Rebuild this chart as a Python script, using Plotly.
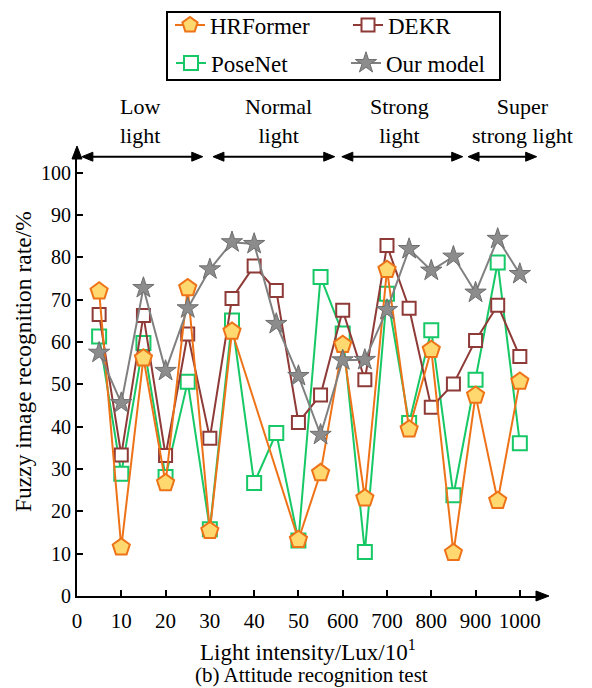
import plotly.graph_objects as go

# ---------------- data ----------------
categories = ['5', '10', '15', '20', '25', '30', '35', '40', '45', '50', '55',
              '600', '650', '700', '750', '800', '850', '900', '950', '1000']
tick_labels = ['0', '10', '20', '30', '40', '50', '600', '700', '800', '900', '1000']

hrformer = [72.0, 11.5, 56.2, 26.7, 72.8, 15.4, 62.5, None, None, 13.3, 29.1,
            59.4, 23.1, 77.1, 39.4, 58.2, 10.2, 47.4, 22.5, 50.7]
posenet = [61.3, 28.9, 59.8, 28.1, 50.6, 15.8, 65.1, 26.7, 38.5, 13.1, 75.4,
           62.0, 10.4, 71.4, 40.9, 62.8, 23.8, 51.1, 78.8, 36.1]
dekr = [66.5, 33.3, 66.3, 33.2, 61.9, 37.3, 70.3, 78.0, 72.2, 41.0, 47.5,
        67.5, 51.1, 82.8, 68.0, 44.6, 50.1, 60.4, 68.7, 56.6]
our_model = [57.5, 45.6, 72.8, 53.2, 68.0, 77.2, 83.6, 83.2, 64.3, 52.0, 38.1,
             55.7, 55.8, 67.6, 82.0, 76.9, 80.2, 71.7, 84.4, 76.1]

regions = ['Low<br>light', 'Normal<br>light', 'Strong<br>light', 'Super<br>strong light']
region_spans = [(0.11, 2.84), (3.07, 5.82), (5.98, 8.71), (8.83, 10.38)]
region_label_x = [1.42, 4.54, 7.29, 10.05]

# positions: each category sits half a tick apart on the axis
xpos = [0.5 * (i + 1) for i in range(len(categories))]
tickpos = list(range(len(tick_labels)))

FONT = 'Liberation Serif'

# plot geometry (pixels)
W, H = 592, 688
L, R, T, B = 77, 54, 158, 92
plot_w = W - L - R
plot_h = H - T - B
ytop = 103.5
xmax = 10.41


def py2paper(py):
    return (H - B - py) / plot_h


def px2paper(px):
    return (px - L) / plot_w


fig = go.Figure()

fig.add_trace(go.Scatter(
    x=xpos, y=posenet, name='PoseNet', mode='lines+markers', connectgaps=True,
    line=dict(color='#16C866', width=2),
    marker=dict(symbol='square', size=14, color='white',
                line=dict(color='#16C866', width=2)),
    legend='legend3'))
fig.add_trace(go.Scatter(
    x=xpos, y=dekr, name='DEKR', mode='lines+markers', connectgaps=True,
    line=dict(color='#8E3A37', width=2),
    marker=dict(symbol='square', size=13, color='white',
                line=dict(color='#8E3A37', width=2)),
    legend='legend2'))
fig.add_trace(go.Scatter(
    x=xpos, y=hrformer, name='HRFormer', mode='lines+markers', connectgaps=True,
    line=dict(color='#EE7318', width=2),
    marker=dict(symbol='pentagon', size=18, color='#FFD970',
                line=dict(color='#EE7318', width=2)),
    legend='legend'))
fig.add_trace(go.Scatter(
    x=xpos, y=our_model, name='Our model', mode='lines+markers', connectgaps=True,
    line=dict(color='#808080', width=2),
    marker=dict(symbol='star', size=16, color='#8C8C8C',
                line=dict(color='#6E6E6E', width=1)),
    legend='legend4'))

axis_font = dict(family=FONT, size=21, color='black')


def leg(px, py):
    return dict(orientation='v', x=px2paper(px), xanchor='left', y=py2paper(py),
                yanchor='middle', xref='paper', yref='paper',
                font=dict(family=FONT, size=23, color='black'),
                bgcolor='rgba(0,0,0,0)', borderwidth=0, itemsizing='trace')


fig.update_layout(
    width=W, height=H,
    margin=dict(l=L, r=R, t=T, b=B, autoexpand=False),
    paper_bgcolor='white', plot_bgcolor='white',
    font=dict(family=FONT, size=20, color='black'),
    xaxis=dict(range=[0, xmax], tickmode='array', tickvals=tickpos, ticktext=tick_labels,
               ticks='inside', ticklen=6, tickwidth=1.5, tickcolor='black',
               showline=True, linecolor='black', linewidth=2, showgrid=False,
               zeroline=False, tickfont=axis_font, ticklabelstandoff=5),
    yaxis=dict(range=[0, ytop], tickmode='array', tickvals=list(range(0, 101, 10)),
               ticks='inside', ticklen=6, tickwidth=1.5, tickcolor='black',
               showline=True, linecolor='black', linewidth=2, showgrid=False,
               zeroline=False, tickfont=dict(family=FONT, size=20, color='black')),
    showlegend=True,
    legend=leg(170, 25),
    legend2=leg(348, 25),
    legend3=leg(171, 63),
    legend4=leg(346, 63),
)

shapes = []
# legend box
shapes.append(dict(type='rect', xref='paper', yref='paper',
                   x0=px2paper(167), x1=px2paper(500), y0=py2paper(80), y1=py2paper(12),
                   line=dict(color='black', width=2), fillcolor='rgba(0,0,0,0)'))


def tri(p1, p2, p3):
    pts = [p1, p2, p3]
    d = 'M ' + ' L '.join(f'{px2paper(a):.5f},{py2paper(b):.5f}' for a, b in pts) + ' Z'
    return dict(type='path', xref='paper', yref='paper', path=d,
                fillcolor='black', line=dict(color='black', width=1))


x0_px = L
y0_px = H - B
# x-axis arrowhead
xend_px = L + plot_w
shapes.append(tri((xend_px - 2, y0_px - 5), (xend_px + 11, y0_px), (xend_px - 2, y0_px + 5)))
# y-axis arrowhead
shapes.append(tri((x0_px - 5, T + 1), (x0_px, T - 12), (x0_px + 5, T + 1)))

# region double arrows
arrow_py = 156.7
for a, b in region_spans:
    pa = L + a / xmax * plot_w
    pb = L + b / xmax * plot_w
    shapes.append(dict(type='line', xref='paper', yref='paper',
                       x0=px2paper(pa + 4), x1=px2paper(pb - 4),
                       y0=py2paper(arrow_py), y1=py2paper(arrow_py),
                       line=dict(color='black', width=2)))
    shapes.append(tri((pa, arrow_py), (pa + 11, arrow_py - 4.5), (pa + 11, arrow_py + 4.5)))
    shapes.append(tri((pb, arrow_py), (pb - 11, arrow_py - 4.5), (pb - 11, arrow_py + 4.5)))

ann = []
for label, lx in zip(regions, region_label_x):
    ann.append(dict(x=lx / xmax, y=py2paper(121), xref='paper', yref='paper',
                    text=label, showarrow=False, xanchor='center', yanchor='middle',
                    font=dict(family=FONT, size=22, color='black'), align='center'))

# axis titles and caption
ann.append(dict(x=px2paper(23), y=py2paper(362), xref='paper', yref='paper',
                text='Fuzzy image recognition rate/%', textangle=-90, showarrow=False,
                xanchor='center', yanchor='middle',
                font=dict(family=FONT, size=23.5, color='black')))
ann.append(dict(x=px2paper(308), y=py2paper(650), xref='paper', yref='paper',
                text='Light intensity/Lux/10<sup>1</sup>', showarrow=False,
                xanchor='center', yanchor='middle',
                font=dict(family=FONT, size=23, color='black')))
ann.append(dict(x=px2paper(311), y=py2paper(675), xref='paper', yref='paper',
                text='(b) Attitude recognition test', showarrow=False,
                xanchor='center', yanchor='middle',
                font=dict(family=FONT, size=21, color='black')))

fig.update_layout(shapes=shapes, annotations=ann)

fig.write_html('out.html')
